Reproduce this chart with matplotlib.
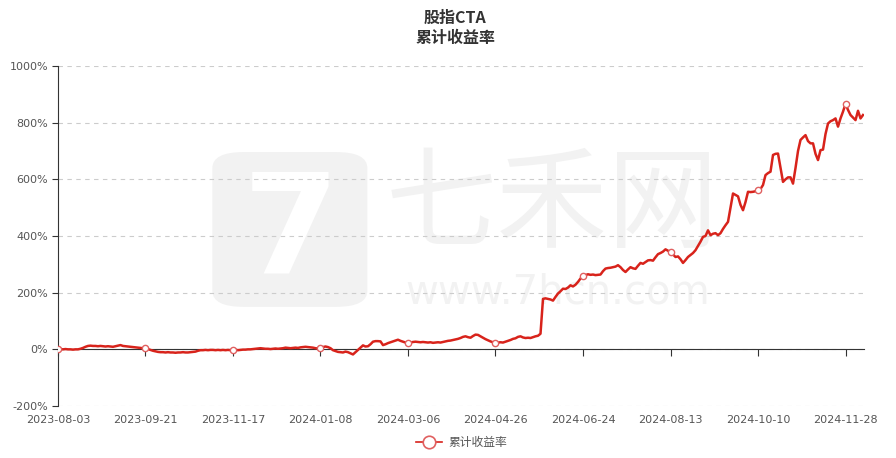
import matplotlib
matplotlib.use("Agg")
import matplotlib.pyplot as plt
from matplotlib.lines import Line2D
from matplotlib.patches import FancyBboxPatch

# cumulative return (%), one value per trading day, 2023-08-03 .. 2024-12-xx
cum_ret = [
    0, 1, 0, 1, 0, 0, -1, 0, 0, 2, 5, 9, 12, 13, 12, 12, 11, 12, 11, 10,
    11, 10, 9, 11, 13, 15, 12, 11, 10, 9, 8, 7, 6, 5, 4, 3, 1, -2, -5, -7,
    -9, -10, -10, -11, -10, -11, -11, -12, -11, -11, -10, -11, -11, -10, -9, -8, -5, -3, -3, -2,
    -3, -2, -2, -3, -2, -3, -2, -3, -2, -3, -2, -2, -3, -2, -1, -1, 0, 0, 1, 2,
    3, 4, 3, 2, 2, 1, 2, 3, 2, 3, 4, 6, 5, 4, 5, 6, 5, 7, 8, 9,
    8, 7, 6, 4, 3, 3, 8, 10, 8, 4, -3, -6, -9, -10, -11, -8, -10, -14, -18, -10,
    -2, 6, 14, 10, 11, 18, 27, 29, 29, 28, 15, 18, 22, 25, 28, 31, 34, 30, 27, 24,
    22, 24, 26, 27, 26, 25, 26, 25, 24, 25, 23, 24, 25, 24, 26, 28, 30, 31, 33, 35,
    37, 40, 44, 46, 43, 41, 47, 52, 51, 46, 41, 36, 32, 28, 25, 22, 24, 25, 24, 27,
    30, 33, 37, 39, 44, 46, 42, 40, 41, 40, 43, 46, 48, 55, 178, 180, 178, 176, 172, 185,
    197, 205, 214, 213, 218, 226, 222, 228, 238, 250, 258, 262, 265, 263, 264, 262, 263, 264, 276, 285,
    287, 288, 290, 292, 297, 290, 280, 273, 282, 290, 286, 284, 295, 305, 302, 308, 314, 315, 313, 325,
    336, 340, 345, 353, 348, 344, 335, 326, 328, 318, 305, 315, 326, 333, 340, 350, 365, 380, 397, 400,
    420, 403, 408, 410, 403, 410, 425, 438, 450, 500, 550, 545, 540, 510, 491, 520, 556, 555, 556, 558,
    564, 566, 580, 615, 622, 627, 686, 690, 691, 640, 591, 600, 607, 607, 585, 640, 700, 739, 748, 756,
    735, 727, 727, 690, 668, 703, 705, 760, 797, 805, 809, 815, 786, 815, 839, 866, 845, 827, 818, 809,
    842, 815, 827,
]
tick_dates = ["2023-08-03", "2023-09-21", "2023-11-17", "2024-01-08", "2024-03-06",
              "2024-04-26", "2024-06-24", "2024-08-13", "2024-10-10", "2024-11-28"]
tick_step = 35
y_ticks = [-200, 0, 200, 400, 600, 800, 1000]

cjk = ["Noto Sans CJK SC", "DejaVu Sans"]
red = "#d8231b"
wm = "#f2f2f2"

fig = plt.figure(figsize=(8.96, 4.58), dpi=100)
ax = fig.add_axes([0.0647, 0.1135, 0.8996, 0.7424])

# watermark, kept under grid and line
ax.add_patch(FancyBboxPatch((0.237, 0.33), 0.173, 0.338, boxstyle="round,pad=0,rounding_size=0.035",
                            transform=fig.transFigure, fc=wm, ec="none", zorder=0.1))
ax.text(0.325, 0.49, "7", transform=fig.transFigure, fontsize=100, fontweight="bold",
        color="white", ha="center", va="center", zorder=0.2)
ax.text(0.616, 0.548, "七禾网", transform=fig.transFigure, fontsize=80, color=wm, family=cjk,
        ha="center", va="center", zorder=0.1)
ax.text(0.622, 0.362, "www.7hcn.com", transform=fig.transFigure, fontsize=29, color=wm,
        ha="center", va="center", zorder=0.1)

x = list(range(len(cum_ret)))
ax.plot(x, cum_ret, color=red, lw=1.8, zorder=3,
        marker="o", markevery=tick_step, markersize=4.5,
        markerfacecolor="white", markeredgecolor="#e06060", markeredgewidth=1)

ax.set_xlim(0, len(cum_ret) - 0.6)
ax.set_ylim(-200, 1000)
ax.set_yticks(y_ticks)
ax.set_yticklabels([f"{v}%" for v in y_ticks])
ax.set_axisbelow(True)
ax.yaxis.grid(True, ls=(0, (4, 4)), color="#cccccc", lw=0.8)

ax.set_xticks([i * tick_step for i in range(len(tick_dates))])
ax.set_xticklabels(tick_dates)

for s in ["top", "right"]:
    ax.spines[s].set_visible(False)
ax.spines["left"].set_color("#333333")
ax.spines["bottom"].set_position(("data", 0))
ax.spines["bottom"].set_color("#333333")
ax.tick_params(axis="x", length=5, color="#333333", pad=42, labelsize=8, labelcolor="#555555")
ax.tick_params(axis="y", length=4, color="#333333", labelsize=8, labelcolor="#555555", pad=3)

fig.text(0.508, 0.962, "股指CTA", fontsize=11.5, fontweight="bold", color="#333333",
         family=cjk, ha="center", va="center")
fig.text(0.508, 0.918, "累计收益率", fontsize=11.5, fontweight="bold", color="#333333",
         family=cjk, ha="center", va="center")

handle = Line2D([], [], color=red, lw=1.2, marker="o", markersize=9,
                markerfacecolor="white", markeredgecolor="#e06060", markeredgewidth=1.2)
fig.legend([handle], ["累计收益率"], loc="center", bbox_to_anchor=(0.515, 0.033),
           frameon=False, prop={"family": cjk, "size": 8.5}, labelcolor="#555555",
           handlelength=2.2, handletextpad=0.5)

fig.savefig("out.png", dpi=100)
